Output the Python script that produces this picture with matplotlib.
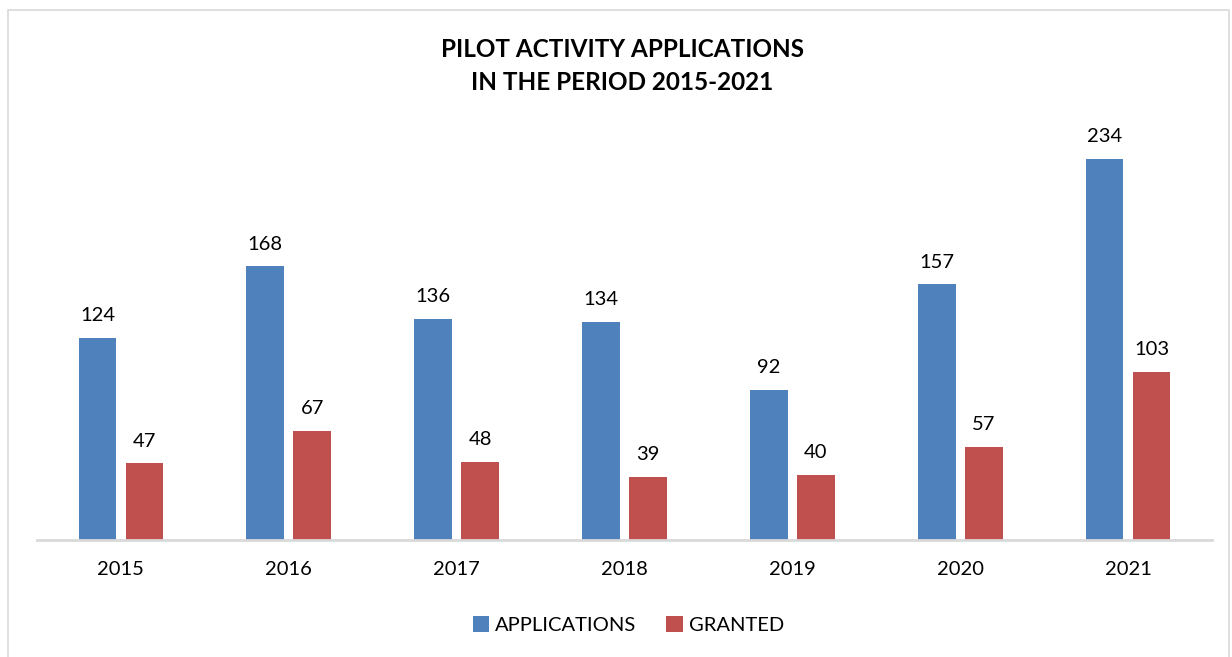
import matplotlib.pyplot as plt
import numpy as np
from matplotlib.patches import Rectangle

years = ['2015', '2016', '2017', '2018', '2019', '2020', '2021']
applications = [124, 168, 136, 134, 92, 157, 234]
granted = [47, 67, 48, 39, 40, 57, 103]

plt.rcParams['font.family'] = ['Lato', 'DejaVu Sans']

fig = plt.figure(figsize=(12.32, 6.57), dpi=100)
# light chart border
fig.patches.append(Rectangle((8 / 1232, -0.05), 1221 / 1232, 1.05 - 10 / 657,
                             transform=fig.transFigure, fill=False,
                             edgecolor='#D9D9D9', linewidth=1.2))

ax = fig.add_axes([37 / 1232, 117 / 657, 1175 / 1232, 407 / 657])
x = np.arange(len(years))
w = 0.225
off = 0.14
b1 = ax.bar(x - off, applications, w, color='#4F81BD', label='APPLICATIONS')
b2 = ax.bar(x + off, granted, w, color='#C0504D', label='GRANTED')

for bars, vals in [(b1, applications), (b2, granted)]:
    for bar, v in zip(bars, vals):
        ax.annotate(str(v), (bar.get_x() + bar.get_width() / 2, v),
                    xytext=(0, 10), textcoords='offset points',
                    ha='center', va='bottom', fontsize=14.5, color='#000000')

ax.set_xlim(-0.5, 6.5)
ax.set_ylim(0, 250)
ax.set_xticks(x)
ax.set_xticklabels(years, fontsize=14.5)
ax.tick_params(axis='x', length=0, pad=15)
ax.set_yticks([])
for s in ['top', 'right', 'left']:
    ax.spines[s].set_visible(False)
ax.spines['bottom'].set_color('#D9D9D9')
ax.spines['bottom'].set_linewidth(2)

fig.text(0.505, 1 - 66 / 657, 'PILOT ACTIVITY APPLICATIONS\nIN THE PERIOD 2015-2021',
         ha='center', va='center', fontsize=17.5, fontweight='bold', linespacing=1.55)

fig.legend(handles=[b1, b2], loc='center', bbox_to_anchor=(0.51, 1 - 625 / 657),
           ncol=2, frameon=False, fontsize=14.5, handlelength=0.8, handleheight=0.8,
           handletextpad=0.3, columnspacing=1.5)

fig.savefig('out.png', dpi=100)
